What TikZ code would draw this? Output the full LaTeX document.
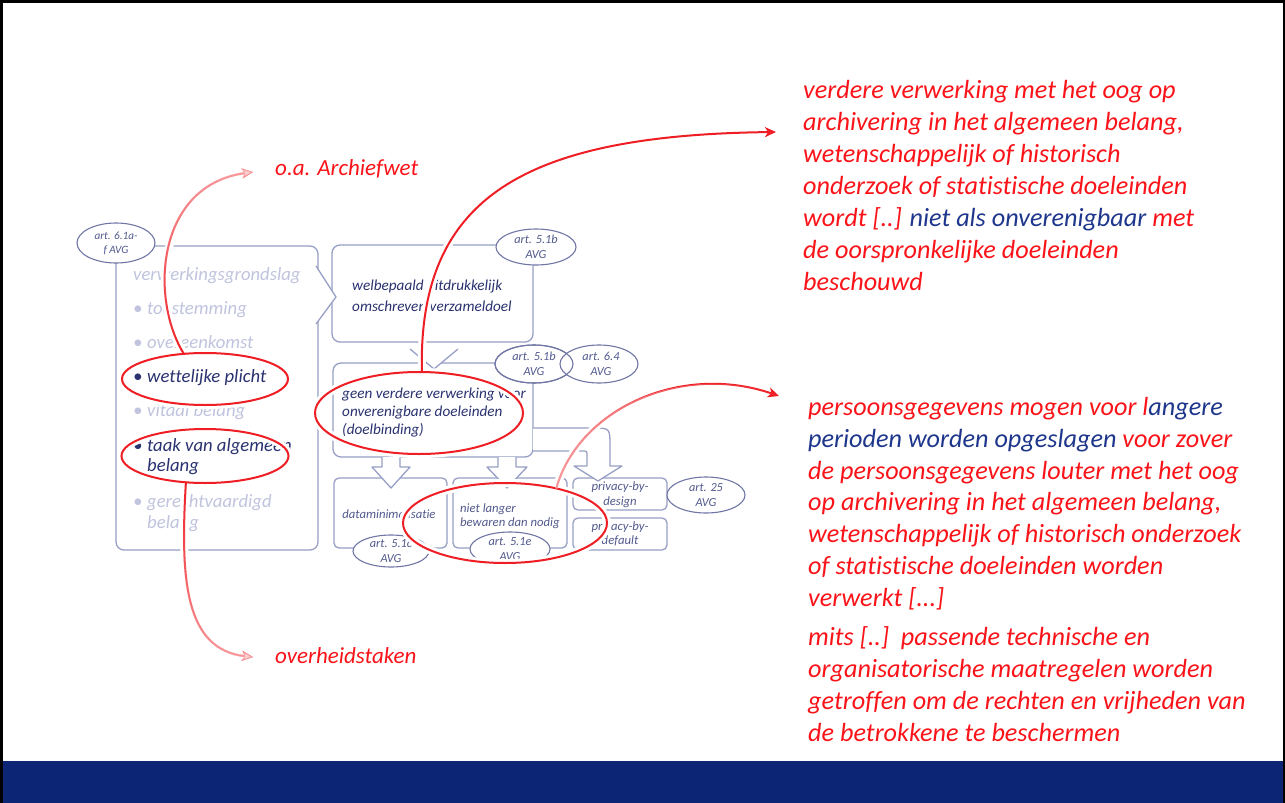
\documentclass[tikz,border=0pt]{standalone}
\usepackage{fontspec}
\setmainfont{Carlito}[Ligatures={NoCommon}]
\usetikzlibrary{arrows.meta,shapes.geometric,fadings}
\definecolor{navyband}{RGB}{12,37,117}
\definecolor{diagline}{RGB}{152,159,198}
\definecolor{ellline}{RGB}{112,118,165}
\definecolor{darktxt}{RGB}{42,50,112}
\definecolor{midtxt}{RGB}{82,90,142}
\definecolor{fadetxt}{RGB}{192,196,222}
\definecolor{annred}{RGB}{238,30,36}
\definecolor{txtred}{RGB}{250,20,25}
\definecolor{txtnavy}{RGB}{30,55,140}
\tikzfading[name=fadeup, top color=transparent!45, bottom color=transparent!100]
\tikzfading[name=fadedown, top color=transparent!100, bottom color=transparent!45]
\tikzfading[name=fadeleft, left color=transparent!45, right color=transparent!100]
\newcommand\fsz[2]{\fontsize{#1}{#2}\selectfont}
\newcommand\bul{\makebox[14pt][l]{•}}
\begin{document}
\begin{tikzpicture}[x=1pt,y=-1pt,
  box/.style={draw=diagline, line width=1.3pt, rounded corners=8pt, inner sep=0pt, outer sep=0pt},
  sbox/.style={box, rounded corners=5pt},
  gellp/.style={draw=ellline, line width=1.1pt, fill=white},
  gtxt/.style={inner sep=0pt, align=center, text=midtxt, font=\fsz{12.3}{15}\itshape},
  listtxt/.style={anchor=base west, inner sep=0pt, font=\fsz{18.7}{20}\itshape},
  btxt/.style={anchor=base west, inner sep=0pt, font=\fsz{15.2}{18}\itshape, text=darktxt},
  stxt/.style={inner sep=0pt, font=\fsz{12.7}{14}\itshape, text=midtxt},
  rtxt/.style={anchor=base west, inner sep=0pt, font=\fsz{26.2}{30}\itshape, text=txtred},
  ltxt/.style={anchor=base west, inner sep=0pt, font=\fsz{23}{27}\itshape, text=txtred},
  halo/.style={draw=white, line width=8pt},
  redl/.style={draw=annred, line width=2pt},
  redarrow/.style={redl, -{Stealth[length=11pt,width=10pt,inset=3pt]}},
  garrow/.style={draw=diagline, line width=1.3pt, fill=white, line join=round},
  redell/.style={ellipse, draw=white, line width=8pt, inner sep=0pt, outer sep=0pt}
]
\useasboundingbox (0,0) rectangle (1285,803);
\fill[white] (0,0) rectangle (1285,803);
\fill[navyband] (0,761) rectangle (1285,803);
\fill[black] (0,0) rectangle (1285,3);
\fill[black] (0,0) rectangle (2.5,803);
\fill[black] (1283,0) rectangle (1285,803);

% boxes
\node[box, minimum width=202pt, minimum height=304pt] (lbox) at (217,398) {};
\node[box, minimum width=201pt, minimum height=97pt] (box1) at (432.5,293.5) {};
\node[box, minimum width=200pt, minimum height=94pt] (box2) at (433,410) {};
\node[sbox, minimum width=113pt, minimum height=70pt] (bdm) at (390.5,513) {};
\node[sbox, minimum width=114pt, minimum height=70pt] (bnl) at (510,513) {};
\node[sbox, minimum width=94pt, minimum height=32pt] (bpd) at (620,494) {};
\node[sbox, minimum width=94pt, minimum height=32pt] (bpf) at (620,534) {};

% block arrows
\fill[white] (316,266) -- (336,297) -- (316,324) -- cycle;
\draw[diagline, line width=1.3pt, line join=round] (316,266) -- (336,297) -- (316,324);
\fill[white] (410,349) -- (434,369) -- (458,349) -- cycle;
\draw[diagline, line width=1.3pt, line join=round] (410,349) -- (434,369) -- (458,349);
\draw[garrow] (382,457) -- (382,467) -- (372,467) -- (391,488) -- (410,467) -- (400,467) -- (400,457);
\draw[garrow] (498,457) -- (498,467) -- (487,467) -- (507,488) -- (527,467) -- (516,467) -- (516,457);
\draw[garrow] (533,428) -- (592,428) .. controls (610,428) .. (610,446) -- (610,466) -- (622,466) -- (598,481) -- (574,466) -- (587,466) -- (587,456) .. controls (587,451) .. (582,451) -- (533,451);

% left list
\node[listtxt, text=fadetxt] (l0) at (133,280) {verwerkingsgrondslag};
\node[listtxt, text=fadetxt] (l1) at (133,314) {\bul toestemming};
\node[listtxt, text=fadetxt] (l2) at (133,348) {\bul overeenkomst};
\node[listtxt, text=darktxt] (l3) at (133,382) {\bul wettelijke plicht};
\node[listtxt, text=fadetxt] (l4) at (133,416) {\bul vitaal belang};
\node[listtxt, text=darktxt] (l5) at (133,451) {\bul taak van algemeen};
\node[listtxt, text=darktxt] (l5b) at (147,471) {belang};
\node[listtxt, text=fadetxt] (l6) at (133,507) {\bul gerechtvaardigd};
\node[listtxt, text=fadetxt] (l6b) at (147,528) {belang};

% box texts
\node[btxt] (t1a) at (352,290) {welbepaald uitdrukkelijk};
\node[btxt] (t1b) at (352,311) {omschreven verzameldoel};
\node[btxt] (t2a) at (342,398) {geen verdere verwerking voor};
\node[btxt] (t2b) at (342,416) {onverenigbare doeleinden};
\node[btxt] (t2c) at (342,434) {(doelbinding)};
\node[stxt, anchor=base] (tdm) at (389,518) {dataminimalisatie};
\node[stxt, anchor=base west] (tnl1) at (460,512) {niet langer};
\node[stxt, anchor=base west] (tnl2) at (460,526) {bewaren dan nodig};
\node[stxt, anchor=base] (tpd1) at (620,490) {privacy-by-};
\node[stxt, anchor=base] (tpd2) at (620,505) {design};
\node[stxt, anchor=base] (tpf1) at (620,530) {privacy-by-};
\node[stxt, anchor=base] (tpf2) at (620,544) {default};

% grey ellipses
\path[gellp] (116,243) ellipse [x radius=39, y radius=20];
\node[gtxt, font=\fsz{11.2}{14}\itshape] (e61) at (116,243) {art. 6.1a-\\f AVG};
\path[gellp] (536,247) ellipse [x radius=40, y radius=18];
\node[gtxt] (e51b) at (536,247) {art. 5.1b\\AVG};
\path[gellp] (534,364) ellipse [x radius=39, y radius=19];
\path[gellp] (599,364) ellipse [x radius=39, y radius=19];
\draw[draw=ellline, line width=1.1pt] (534,364) ellipse [x radius=39, y radius=19];
\node[gtxt] (e51bb) at (534,364) {art. 5.1b\\AVG};
\node[gtxt] (e64) at (601,364) {art. 6.4\\AVG};
\path[gellp] (391,551) ellipse [x radius=38, y radius=16];
\node[gtxt] (e51c) at (391,551) {art. 5.1c\\AVG};
\path[gellp] (510,549) ellipse [x radius=40, y radius=17];
\node[gtxt] (e51e) at (510,549) {art. 5.1e\\AVG};
\path[gellp] (706,495) ellipse [x radius=39, y radius=18];
\node[gtxt] (e25) at (706,495) {art. 25\\AVG};

% red annotations: halos
\node[redell, minimum width=166pt, minimum height=52pt] (r1) at (205,379) {};
\node[redell, minimum width=167pt, minimum height=54pt] (r2) at (205,456) {};
\node[redell, minimum width=208pt, minimum height=82pt] (r3) at (419,413) {};
\node[redell, minimum width=204pt, minimum height=80pt] (r4) at (505,523) {};
\coordinate (a1) at (253,172);
\coordinate (a2) at (253,657);
\coordinate (a3) at (776,132);
\coordinate (a4) at (779,396);
\draw[halo] (r1.130) .. controls (150,300) and (155,185) .. (a1);
\draw[halo] (r2.234) .. controls (180,580) and (185,650) .. (a2);
\draw[halo] (r3.86) .. controls (418,200) and (520,135) .. (a3);
\draw[halo] (r4.34) .. controls (578,410) and (680,362) .. (a4);

% red strokes
\draw[redl] (r1.center) ellipse [x radius=83, y radius=26];
\draw[redl] (r2.center) ellipse [x radius=83.5, y radius=27];
\draw[redl] (r3.center) ellipse [x radius=104, y radius=41];
\draw[redl] (r4.center) ellipse [x radius=102, y radius=40];
\draw[redarrow] (r1.130) .. controls (150,300) and (155,185) .. (a1);
\draw[redarrow] (r2.234) .. controls (180,580) and (185,650) .. (a2);
\draw[redarrow] (r3.86) .. controls (418,200) and (520,135) .. (a3);
\draw[redarrow] (r4.34) .. controls (578,410) and (680,362) .. (a4);
% fading lightening
\draw[draw=white, line width=2.4pt, path fading=fadeup, -{Stealth[length=11pt,width=10pt,inset=3pt]}] (r1.130) .. controls (150,300) and (155,185) .. (a1);
\draw[draw=white, line width=2.4pt, path fading=fadedown, -{Stealth[length=11pt,width=10pt,inset=3pt]}] (r2.234) .. controls (180,580) and (185,650) .. (a2);
\draw[draw=white, line width=2.4pt, path fading=fadeleft] (r4.34) .. controls (578,410) and (680,362) .. (a4);

% red labels
\node[ltxt] (lbarch) at (275,175) {o.a. Archiefwet};
\node[ltxt] (lbover) at (275,663) {overheidstaken};

\node[rtxt] (p1) at (803,98) {verdere verwerking met het oog op};
\node[rtxt] (p2) at (803,130) {archivering in het algemeen belang,};
\node[rtxt] (p3) at (803,162) {wetenschappelijk of historisch};
\node[rtxt] (p4) at (803,194) {onderzoek of statistische doeleinden};
\node[rtxt] (p5) at (803,226) {wordt [..] \textcolor{txtnavy}{niet als onverenigbaar} met};
\node[rtxt] (p6) at (803,258) {de oorspronkelijke doeleinden};
\node[rtxt] (p7) at (803,290) {beschouwd};

\node[rtxt] (q1) at (808,415) {persoonsgegevens mogen voor l\textcolor{txtnavy}{angere}};
\node[rtxt] (q2) at (808,447) {\textcolor{txtnavy}{perioden worden opgeslagen} voor zover};
\node[rtxt] (q3) at (808,479) {de persoonsgegevens louter met het oog};
\node[rtxt] (q4) at (808,510.5) {op archivering in het algemeen belang,};
\node[rtxt] (q5) at (808,542) {wetenschappelijk of historisch onderzoek};
\node[rtxt] (q6) at (808,574) {of statistische doeleinden worden};
\node[rtxt] (q7) at (808,606) {verwerkt [...]};

\node[rtxt] (m1) at (808,645) {mits [..]\ \ passende technische en};
\node[rtxt] (m2) at (808,677) {organisatorische maatregelen worden};
\node[rtxt] (m3) at (808,709) {getroffen om de rechten en vrijheden van};
\node[rtxt] (m4) at (808,741) {de betrokkene te beschermen};
\end{tikzpicture}
\end{document}
